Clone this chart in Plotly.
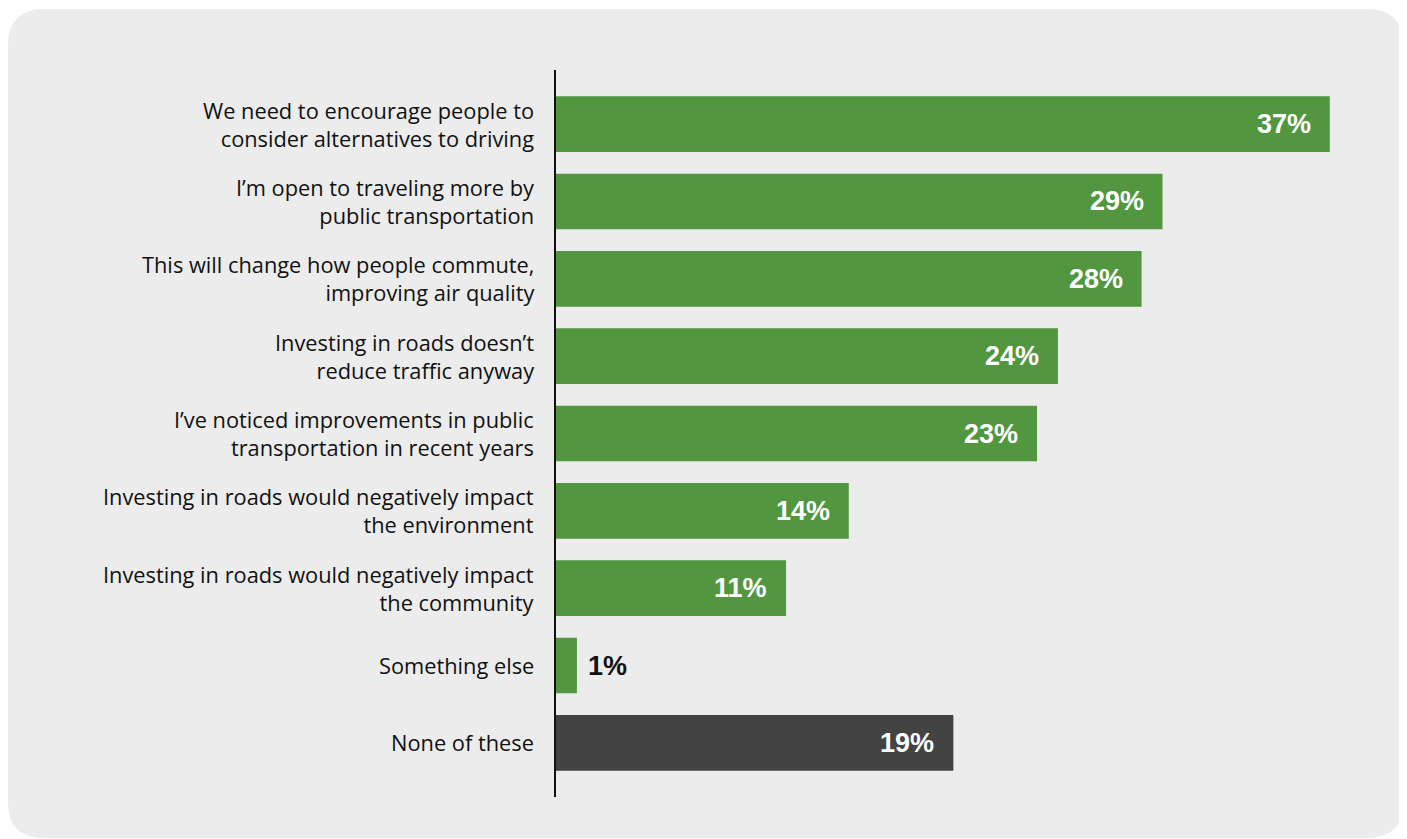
import plotly.graph_objects as go

categories = [
    "We need to encourage people to<br>consider alternatives to driving",
    "I’m open to traveling more by<br>public transportation",
    "This will change how people commute,<br>improving air quality",
    "Investing in roads doesn’t<br>reduce traffic anyway",
    "I’ve noticed improvements in public<br>transportation in recent years",
    "Investing in roads would negatively impact<br>the environment",
    "Investing in roads would negatively impact<br>the community",
    "Something else",
    "None of these",
]
values = [37, 29, 28, 24, 23, 14, 11, 1, 19]
GREEN = "#529640"
DARK = "#434343"
bar_colors = [GREEN] * 8 + [DARK]

# page has an 8px body margin; figure sized to fill the rest of the window
W, H = 1399, 831
ML, MT, MB = 548, 62, 42
PW = 824
MR = W - ML - PW
PH = H - MT - MB

LABEL_FONT = "Open Sans, Liberation Sans, Arial, sans-serif"
VALUE_FONT = "Liberation Sans, Arial, sans-serif"

fig = go.Figure()
fig.add_trace(go.Bar(
    y=categories, x=values, orientation="h",
    marker=dict(color=bar_colors, line=dict(width=0)),
    width=0.72, hoverinfo="skip",
))

annotations = []
for cat, v in zip(categories, values):
    annotations.append(dict(
        x=0, xref="paper", y=cat, yref="y", text=cat,
        xanchor="right", align="right", xshift=-20, showarrow=False,
        font=dict(family=LABEL_FONT, size=21.8, color="#111111"),
    ))
    if v >= 5:
        annotations.append(dict(
            x=v, xref="x", y=cat, yref="y", text=f"<b>{v}%</b>",
            xanchor="right", xshift=-17, showarrow=False,
            font=dict(family=VALUE_FONT, size=27, color="white"),
        ))
    else:
        annotations.append(dict(
            x=v, xref="x", y=cat, yref="y", text=f"<b>{v}%</b>",
            xanchor="left", xshift=9, showarrow=False,
            font=dict(family=VALUE_FONT, size=27, color="#111111"),
        ))


def px2paper(px, py):
    return (px - ML) / PW, (H - MB - py) / PH


def rounded_rect(x0, y0, x1, y1, r):
    def P(x, y):
        a, b = px2paper(x, y)
        return f"{a:.5f},{b:.5f}"
    return (
        f"M {P(x0 + r, y0)} L {P(x1 - r, y0)} Q {P(x1, y0)} {P(x1, y0 + r)} "
        f"L {P(x1, y1 - r)} Q {P(x1, y1)} {P(x1 - r, y1)} "
        f"L {P(x0 + r, y1)} Q {P(x0, y1)} {P(x0, y1 - r)} "
        f"L {P(x0, y0 + r)} Q {P(x0, y0)} {P(x0 + r, y0)} Z"
    )


fig.add_shape(
    type="path", xref="paper", yref="paper",
    path=rounded_rect(0, 1, 1395, 830, 36),
    fillcolor="#ececec", line=dict(width=0), layer="below",
)

fig.update_layout(
    width=W, height=H,
    margin=dict(l=ML, r=MR, t=MT, b=MB),
    paper_bgcolor="white", plot_bgcolor="rgba(0,0,0,0)",
    showlegend=False,
    annotations=annotations,
    xaxis=dict(visible=False, range=[0, 39.4], fixedrange=True),
    yaxis=dict(
        type="category", categoryorder="array", categoryarray=categories,
        range=[8.7, -0.7], showticklabels=False, ticks="",
        showgrid=False, zeroline=False,
        showline=True, linecolor="#111111", linewidth=2,
    ),
    bargap=0.28,
)

fig.write_html("out.html")
